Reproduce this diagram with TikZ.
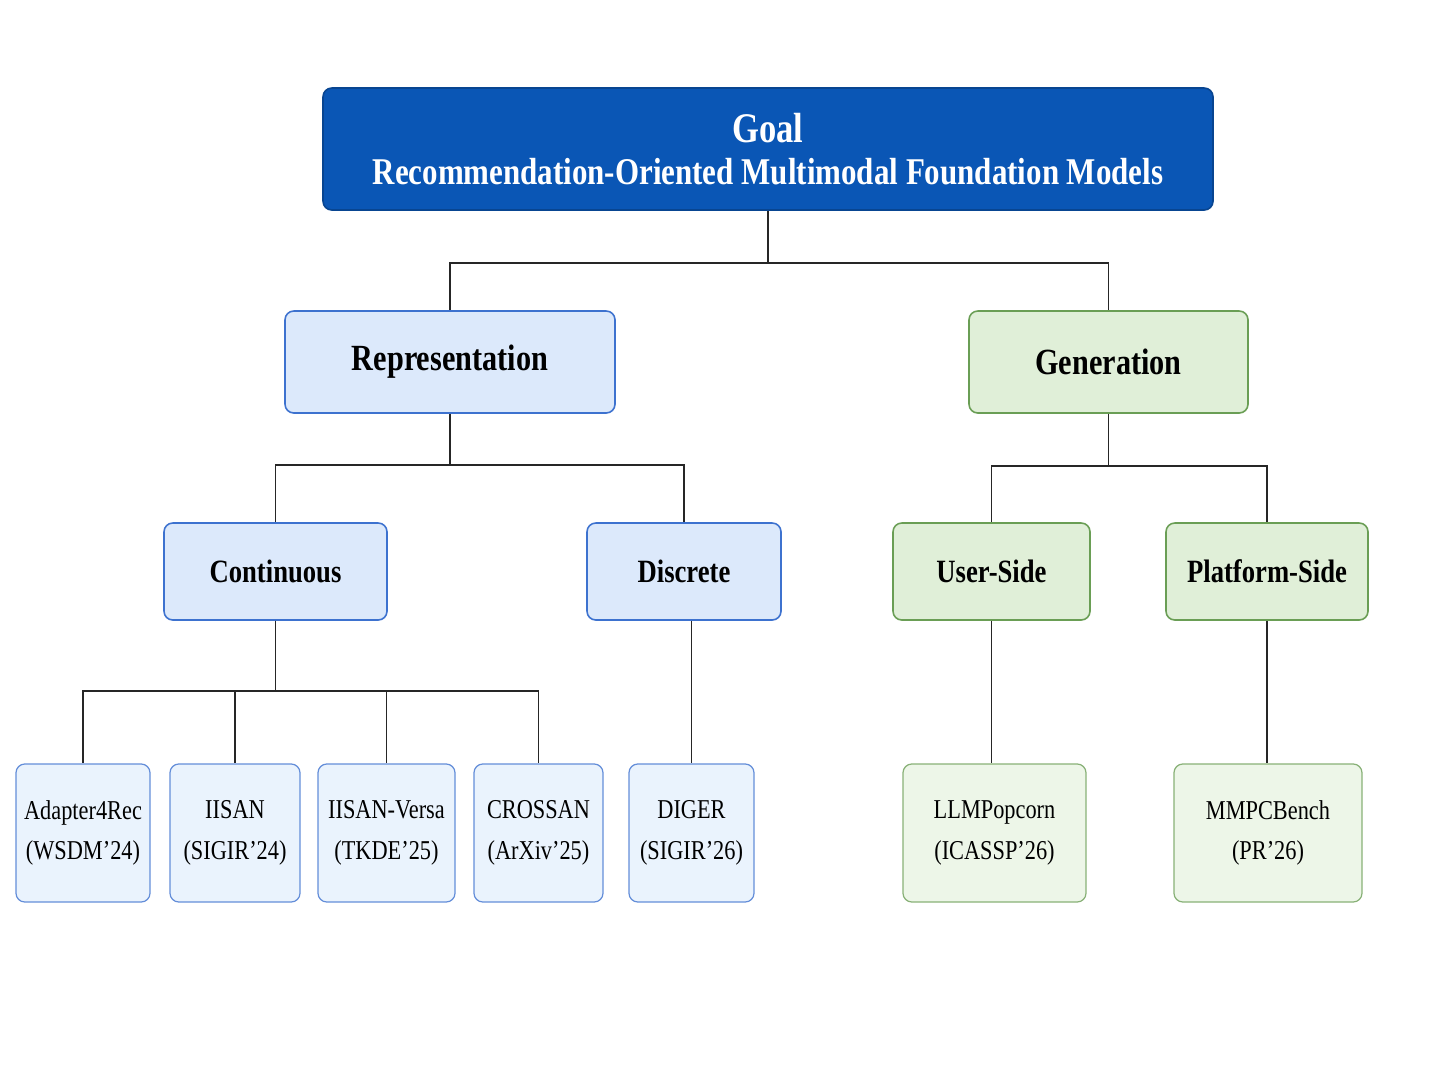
\documentclass[tikz,border=0pt]{standalone}
\usepackage{fontspec}
\setmainfont[FakeStretch=0.82]{Liberation Serif}
\begin{document}
\begin{tikzpicture}[x=0.02cm,y=-0.02cm,
 bx/.style={draw,rounded corners=5pt,line width=0.9pt,inner sep=0pt},
 rep/.style={bx,fill=repf,draw=repd},
 gen/.style={bx,fill=genf,draw=gend},
 repl/.style={bx,fill=leafb,draw=repd!80,line width=0.7pt,font=\lf},
 genl/.style={bx,fill=leafg,draw=gend!80,line width=0.7pt,font=\lf},
 ln/.style={line width=1.1pt,black!85}]
\definecolor{goalc}{HTML}{0A56B5}
\definecolor{repf}{HTML}{DCE9FB}\definecolor{repd}{HTML}{3D72CF}
\definecolor{genf}{HTML}{E0EFD8}\definecolor{gend}{HTML}{6A9E55}
\definecolor{leafb}{HTML}{EAF3FD}\definecolor{leafg}{HTML}{EDF6E8}
\def\lf{\fontsize{15.5}{23}\selectfont}
\useasboundingbox (0,0) rectangle (1448,1086);
\newcommand{\bxn}[7]{\node[#1,minimum width=(#4-#3)*0.02cm,minimum height=(#6-#5)*0.02cm,align=center] (#2) at ({(#3+#4)/2},{(#5+#6)/2}) {#7};}
\bxn{bx,fill=goalc,draw=goalc!80!black,text=white,font=\bfseries\fontsize{21.5}{25}\selectfont}{goal}{323}{1213}{88}{210}{{\fontsize{24}{25}\selectfont Goal}\\[-1pt]Recommendation-Oriented Multimodal Foundation Models}
\bxn{rep,font=\bfseries\fontsize{21}{24}\selectfont}{rp}{285}{615}{311}{413}{Representation}
\bxn{gen,font=\bfseries\fontsize{21}{24}\selectfont}{gn}{969}{1248}{311}{413}{Generation}
\bxn{rep,font=\bfseries\fontsize{18.5}{22}\selectfont}{co}{164}{387}{523}{620}{Continuous}
\bxn{rep,font=\bfseries\fontsize{18.5}{22}\selectfont}{di}{587}{781}{523}{620}{Discrete}
\bxn{gen,font=\bfseries\fontsize{18.5}{22}\selectfont}{us}{893}{1090}{523}{620}{User-Side}
\bxn{gen,font=\bfseries\fontsize{18.5}{22}\selectfont}{ps}{1166}{1368}{523}{620}{Platform-Side}
\bxn{repl}{l1}{16}{150}{764}{902}{Adapter4Rec\\(WSDM'24)}
\bxn{repl}{l2}{170}{300}{764}{902}{IISAN\\(SIGIR'24)}
\bxn{repl}{l3}{318}{455}{764}{902}{IISAN-Versa\\(TKDE'25)}
\bxn{repl}{l4}{474}{603}{764}{902}{CROSSAN\\(ArXiv'25)}
\bxn{repl}{l5}{629}{754}{764}{902}{DIGER\\(SIGIR'26)}
\bxn{genl}{l6}{903}{1086}{764}{902}{LLMPopcorn\\(ICASSP'26)}
\bxn{genl}{l7}{1174}{1362}{764}{902}{MMPCBench\\(PR'26)}
\draw[ln] (goal.south) -- ++(0,52) -| (rp.north);
\draw[ln] (goal.south) -- ++(0,52) -| (gn.north);
\draw[ln] (rp.south) -- ++(0,51) -| (co.north);
\draw[ln] (rp.south) -- ++(0,51) -| (di.north);
\draw[ln] (gn.south) -- ++(0,52) -| (us.north);
\draw[ln] (gn.south) -- ++(0,52) -| (ps.north);
\foreach \l in {l1,l2,l3,l4}{\draw[ln] (co.south) -- ++(0,70) -| (\l.north);}
\draw[ln] (l5.north |- di.south) -- (l5.north);
\draw[ln] (us.south) -- (us.south |- l6.north);
\draw[ln] (ps.south) -- (ps.south |- l7.north);
\end{tikzpicture}
\end{document}
